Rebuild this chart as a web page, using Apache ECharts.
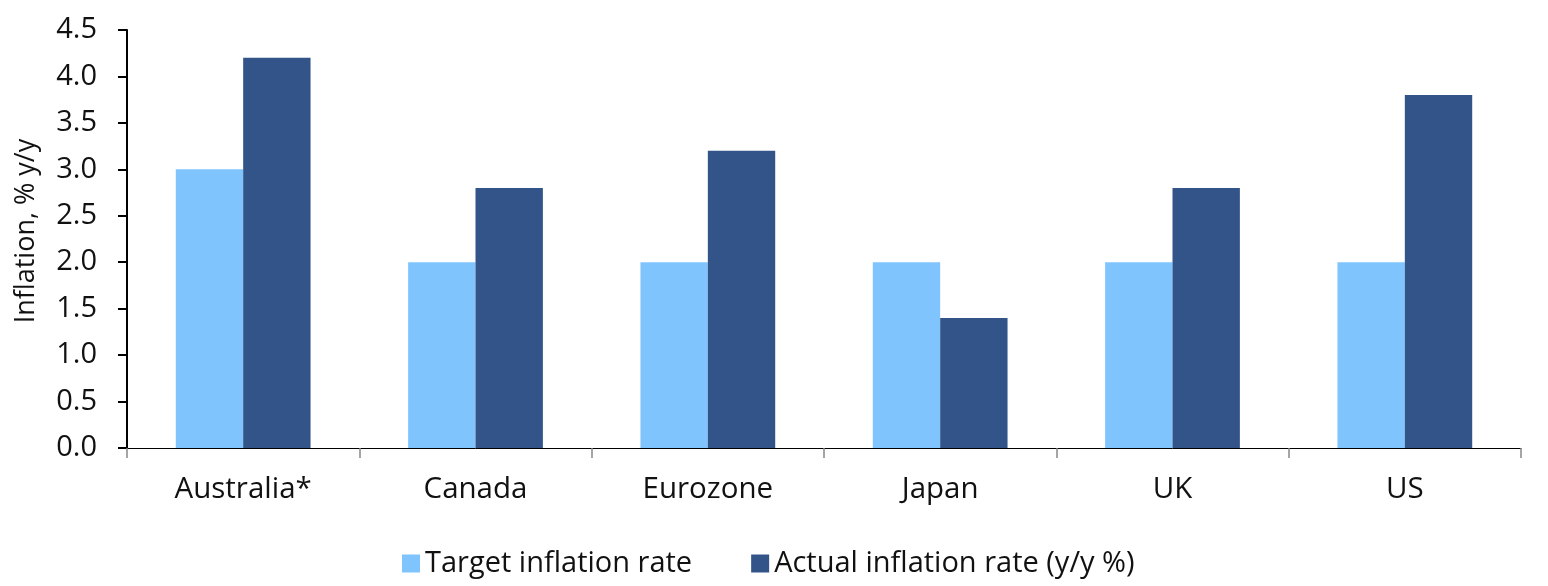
<!DOCTYPE html>
<html>
<head>
<meta charset="utf-8">
<script src="https://cdn.jsdelivr.net/npm/echarts@6/dist/echarts.min.js"></script>
<style>
html,body{margin:0;padding:0;background:#fff;}
#chart{width:1548px;height:586px;}
</style>
</head>
<body>
<div id="chart"></div>
<script>
const categories = ['Australia*', 'Canada', 'Eurozone', 'Japan', 'UK', 'US'];
const targetRate = [3.0, 2.0, 2.0, 2.0, 2.0, 2.0];
const actualRate = [4.2, 2.8, 3.2, 1.4, 2.8, 3.8];
const seriesNames = ['Target inflation rate', 'Actual inflation rate (y/y %)'];
const yAxisTitle = 'Inflation, % y/y';

const FONT = '"Open Sans", "Noto Sans", sans-serif';
const chart = echarts.init(document.getElementById('chart'), null, {renderer: 'canvas'});
chart.setOption({
  animation: false,
  backgroundColor: '#ffffff',
  grid: {left: 127, right: 27, top: 30, bottom: 138, containLabel: false, outerBoundsMode: 'none'},
  legend: {
    left: 397, top: 544,
    itemWidth: 18, itemHeight: 18, itemGap: 59,
    icon: 'rect',
    textStyle: {fontFamily: FONT, fontSize: 29, color: '#111'},
    data: seriesNames
  },
  xAxis: {
    type: 'category',
    data: categories,
    axisLine: {lineStyle: {color: '#000', width: 1}},
    axisTick: {show: true, length: 10, lineStyle: {color: '#888', width: 1.5}},
    axisLabel: {fontFamily: FONT, fontSize: 29.5, color: '#111', margin: 27}
  },
  yAxis: {
    type: 'value',
    min: 0, max: 4.5, interval: 0.5,
    name: yAxisTitle,
    nameLocation: 'middle',
    nameGap: 87,
    nameRotate: 90,
    nameTextStyle: {fontFamily: FONT, fontSize: 27, color: '#111', padding: [0, 0, 0, 16]},
    axisLine: {show: true, lineStyle: {color: '#000', width: 2}},
    axisTick: {show: true, length: 9, lineStyle: {color: '#000', width: 2}},
    splitLine: {show: false},
    axisLabel: {fontFamily: FONT, fontSize: 29, color: '#111', margin: 30,
      formatter: v => v.toFixed(1)}
  },
  series: [
    {name: seriesNames[0], type: 'bar', data: targetRate, barGap: '0%', barCategoryGap: '42%',
     itemStyle: {color: '#80C4FE'}},
    {name: seriesNames[1], type: 'bar', data: actualRate, barGap: '0%', barCategoryGap: '42%',
     itemStyle: {color: '#335488'}}
  ]
});
</script>
</body>
</html>
